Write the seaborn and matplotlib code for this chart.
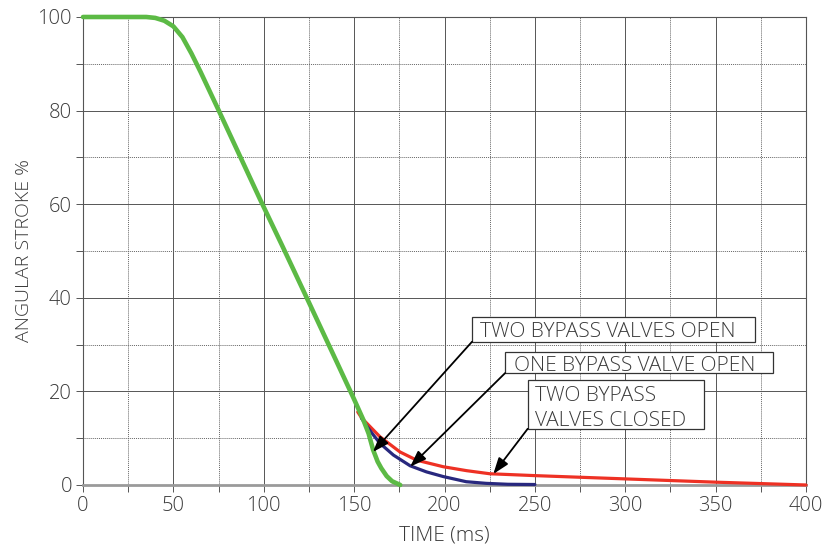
import matplotlib
matplotlib.use("Agg")
import matplotlib.pyplot as plt
import seaborn as sns
import pandas as pd
from matplotlib.ticker import MultipleLocator
from matplotlib.patches import Rectangle

# Data
green_t = [0, 20, 35, 40, 45, 50, 55, 60, 65, 70, 75, 85, 98, 110, 125, 140, 150, 155, 158, 160.5, 163, 165, 168, 171, 175.5]
green_y = [100, 100, 100, 99.8, 99.2, 98.0, 95.7, 92.2, 88.3, 84.2, 80.1, 71.8, 61.0, 51.3, 39.0, 26.6, 18.3, 14.0, 11.0, 7.5, 5.0, 3.6, 1.9, 0.8, 0]

blue_t = [154, 157, 160, 164.3, 171.7, 181, 190, 199.3, 212, 223, 235, 250]
blue_y = [14.3, 12.6, 11.0, 8.9, 6.4, 4.1, 2.8, 1.8, 0.7, 0.35, 0.15, 0.1]

red_t = [152, 154.2, 160, 164.3, 175.4, 184.6, 199.3, 212.2, 225, 250, 300, 350, 400]
red_y = [15.6, 14.3, 12.0, 10.3, 7.05, 5.3, 3.9, 3.06, 2.4, 2.0, 1.3, 0.6, 0.0]

x_ticks = [0, 50, 100, 150, 200, 250, 300, 350, 400]
y_ticks = [0, 20, 40, 60, 80, 100]

labels = ["TWO BYPASS VALVES OPEN", "ONE BYPASS VALVE OPEN", "TWO BYPASS\nVALVES CLOSED"]
arrow_tips = [(160.4, 7.05), (181.0, 3.9), (227.0, 2.35)]

# annotation box layout (data units): x0, x1, y_bottom, y_top
box_x0 = [215.2, 233.5, 246.0]
box_x1 = [371.8, 381.6, 343.7]
box_y0 = [30.6, 23.9, 12.0]
box_y1 = [35.9, 28.5, 22.4]
text_x = [219.6, 238.5, 250.1]
text_baseline = [31.6, 24.4, 12.67]
line_step = 5.33

sns.set_theme(style="white")
plt.rcParams['font.family'] = ['Open Sans', 'DejaVu Sans']
text_color = "#3a3a3a"

fig = plt.figure(figsize=(8.25, 5.48), dpi=100)
ax = fig.add_axes([0.1006, 0.115, 0.8764, 0.854])

df_g = pd.DataFrame({"t": green_t, "y": green_y})
df_b = pd.DataFrame({"t": blue_t, "y": blue_y})
df_r = pd.DataFrame({"t": red_t, "y": red_y})

sns.lineplot(data=df_r, x="t", y="y", ax=ax, color="#ee3124", lw=2.3, zorder=3, clip_on=False)
sns.lineplot(data=df_b, x="t", y="y", ax=ax, color="#28287e", lw=2.3, zorder=4, clip_on=False)
sns.lineplot(data=df_g, x="t", y="y", ax=ax, color="#5cba45", lw=3.3, zorder=5, clip_on=False)

ax.set_xlim(0, 400)
ax.set_ylim(0, 100)
ax.set_xticks(x_ticks)
ax.set_yticks(y_ticks)
ax.xaxis.set_minor_locator(MultipleLocator(25))
ax.yaxis.set_minor_locator(MultipleLocator(10))
ax.grid(which="major", color="#555555", lw=0.7, ls="-", zorder=1)
ax.grid(which="minor", color="#666666", lw=0.7, ls=(0, (1, 1)), zorder=1)
ax.set_axisbelow(True)

ax.tick_params(axis="both", which="both", direction="out", length=5, width=0.7,
               color="#555555", labelsize=14.5, labelcolor=text_color, pad=3,
               bottom=True, left=True)
for lbl in ax.get_xticklabels() + ax.get_yticklabels():
    lbl.set_fontweight("light")

for side in ["top", "left", "right"]:
    ax.spines[side].set_color("#555555")
    ax.spines[side].set_linewidth(0.8)
ax.spines["bottom"].set_color("#9a9a9a")
ax.spines["bottom"].set_linewidth(2.0)

ax.set_xlabel("TIME (ms)", fontsize=15, color=text_color, fontweight="light", labelpad=7)
ax.set_ylabel("ANGULAR STROKE %", fontsize=14, color=text_color, fontweight="light", labelpad=3)

for i, lab in enumerate(labels):
    ax.add_patch(Rectangle((box_x0[i], box_y0[i]), box_x1[i] - box_x0[i], box_y1[i] - box_y0[i],
                           fc="white", ec="#333333", lw=0.9, zorder=6, clip_on=False))
    lines = lab.split("\n")
    for j, line in enumerate(lines):
        ax.text(text_x[i], text_baseline[i] + (len(lines) - 1 - j) * line_step, line,
                ha="left", va="baseline", fontsize=15, color=text_color,
                fontweight="light", zorder=7)
    ax.annotate("", xy=arrow_tips[i], xytext=(box_x0[i], box_y0[i]), textcoords="data",
                arrowprops=dict(arrowstyle="-|>,head_length=0.7,head_width=0.25", color="black",
                                lw=1.3, mutation_scale=14, shrinkA=0, shrinkB=0),
                zorder=6)

fig.savefig("out.png", dpi=100)
